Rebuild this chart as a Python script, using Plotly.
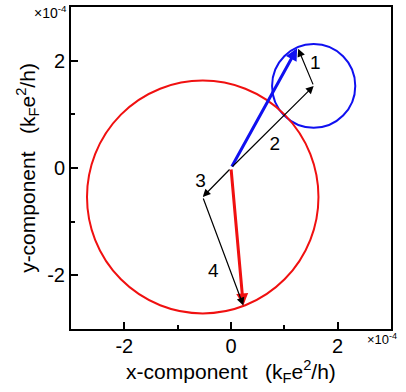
import plotly.graph_objects as go

# Data (units of 1e-4 k_F e^2/h)
circle_names = ["blue", "red"]
circle_cx = [1.55, -0.53]
circle_cy = [1.53, -0.54]
circle_r = [0.78, 2.17]
circle_colors = ["#1010f0", "#f01010"]

# Black component vectors 1-4: tail -> tip
vec_labels = ["1", "2", "3", "4"]
vec_x0 = [1.55, 0.0, 0.0, -0.53]
vec_y0 = [1.53, 0.0, 0.0, -0.54]
vec_x1 = [1.26, 1.55, -0.53, 0.23]
vec_y1 = [2.22, 1.53, -0.54, -2.56]
label_x = [1.58, 0.82, -0.57, -0.33]
label_y = [1.94, 0.42, -0.26, -1.94]

# Resultant vectors (colored)
res_x0 = [0.0, 0.0]
res_y0 = [0.0, 0.0]
res_x1 = [1.24, 0.23]
res_y1 = [2.23, -2.56]
res_colors = ["#1010f0", "#f01010"]

FONT = "Liberation Sans, Arial"

fig = go.Figure()

fig.add_trace(go.Scatter(
    x=label_x, y=label_y, mode="text", text=vec_labels,
    textfont=dict(family=FONT, size=19, color="black"),
    showlegend=False, hoverinfo="skip"))

shapes = []
for cx, cy, r, c in zip(circle_cx, circle_cy, circle_r, circle_colors):
    shapes.append(dict(type="circle", xref="x", yref="y",
                       x0=cx - r, x1=cx + r, y0=cy - r, y1=cy + r,
                       line=dict(color=c, width=2)))

annotations = []
for x0, y0, x1, y1, c in zip(res_x0, res_y0, res_x1, res_y1, res_colors):
    annotations.append(dict(x=x1, y=y1, ax=x0, ay=y0, xref="x", yref="y",
                            axref="x", ayref="y", text="", showarrow=True,
                            arrowhead=2, arrowsize=0.8, arrowwidth=3,
                            arrowcolor=c, standoff=0))
for x0, y0, x1, y1 in zip(vec_x0, vec_y0, vec_x1, vec_y1):
    annotations.append(dict(x=x1, y=y1, ax=x0, ay=y0, xref="x", yref="y",
                            axref="x", ayref="y", text="", showarrow=True,
                            arrowhead=2, arrowsize=1.3, arrowwidth=1.2,
                            arrowcolor="black", standoff=0))

annotations.append(dict(x=-0.006, y=0.985, xref="paper", yref="paper",
                        xanchor="right", yanchor="middle", showarrow=False,
                        text="×10<sup>-4</sup>",
                        font=dict(family=FONT, size=14, color="black")))
annotations.append(dict(x=0.92, y=-0.03, xref="paper", yref="paper",
                        xanchor="left", yanchor="middle", showarrow=False,
                        text="×10<sup>-4</sup>",
                        font=dict(family=FONT, size=13, color="black")))

axis_common = dict(
    range=[-3, 3], tickvals=[-2, 0, 2], ticktext=["-2", "0", "2"],
    ticks="inside", ticklen=7, tickwidth=2, tickcolor="black",
    minor=dict(tickvals=[-1, 1], ticks="inside", ticklen=4, tickwidth=2, tickcolor="black"),
    showline=True, linewidth=2, linecolor="black", mirror=True,
    showgrid=False, zeroline=False, automargin=False,
    tickfont=dict(family=FONT, size=20, color="black"),
)

fig.update_layout(
    width=406, height=392,
    margin=dict(l=71, r=15, t=7, b=63, autoexpand=False),
    paper_bgcolor="white", plot_bgcolor="white",
    shapes=shapes, annotations=annotations,
    xaxis=dict(axis_common, ticklabelstandoff=-2,
               title=dict(text="x-component\u00a0\u00a0\u00a0(k<sub>F</sub>e<sup>2</sup>/h)",
                          font=dict(family=FONT, size=21, color="black"),
                          standoff=2)),
    yaxis=dict(axis_common, ticklabelstandoff=0,
               title=dict(text="y-component\u00a0\u00a0\u00a0(k<sub>F</sub>e<sup>2</sup>/h)",
                          font=dict(family=FONT, size=21, color="black"),
                          standoff=6)),
    showlegend=False,
)

fig.write_html("out.html", config={"displayModeBar": False},
               post_script="document.body.style.margin='0px';document.body.style.overflow='hidden';")
